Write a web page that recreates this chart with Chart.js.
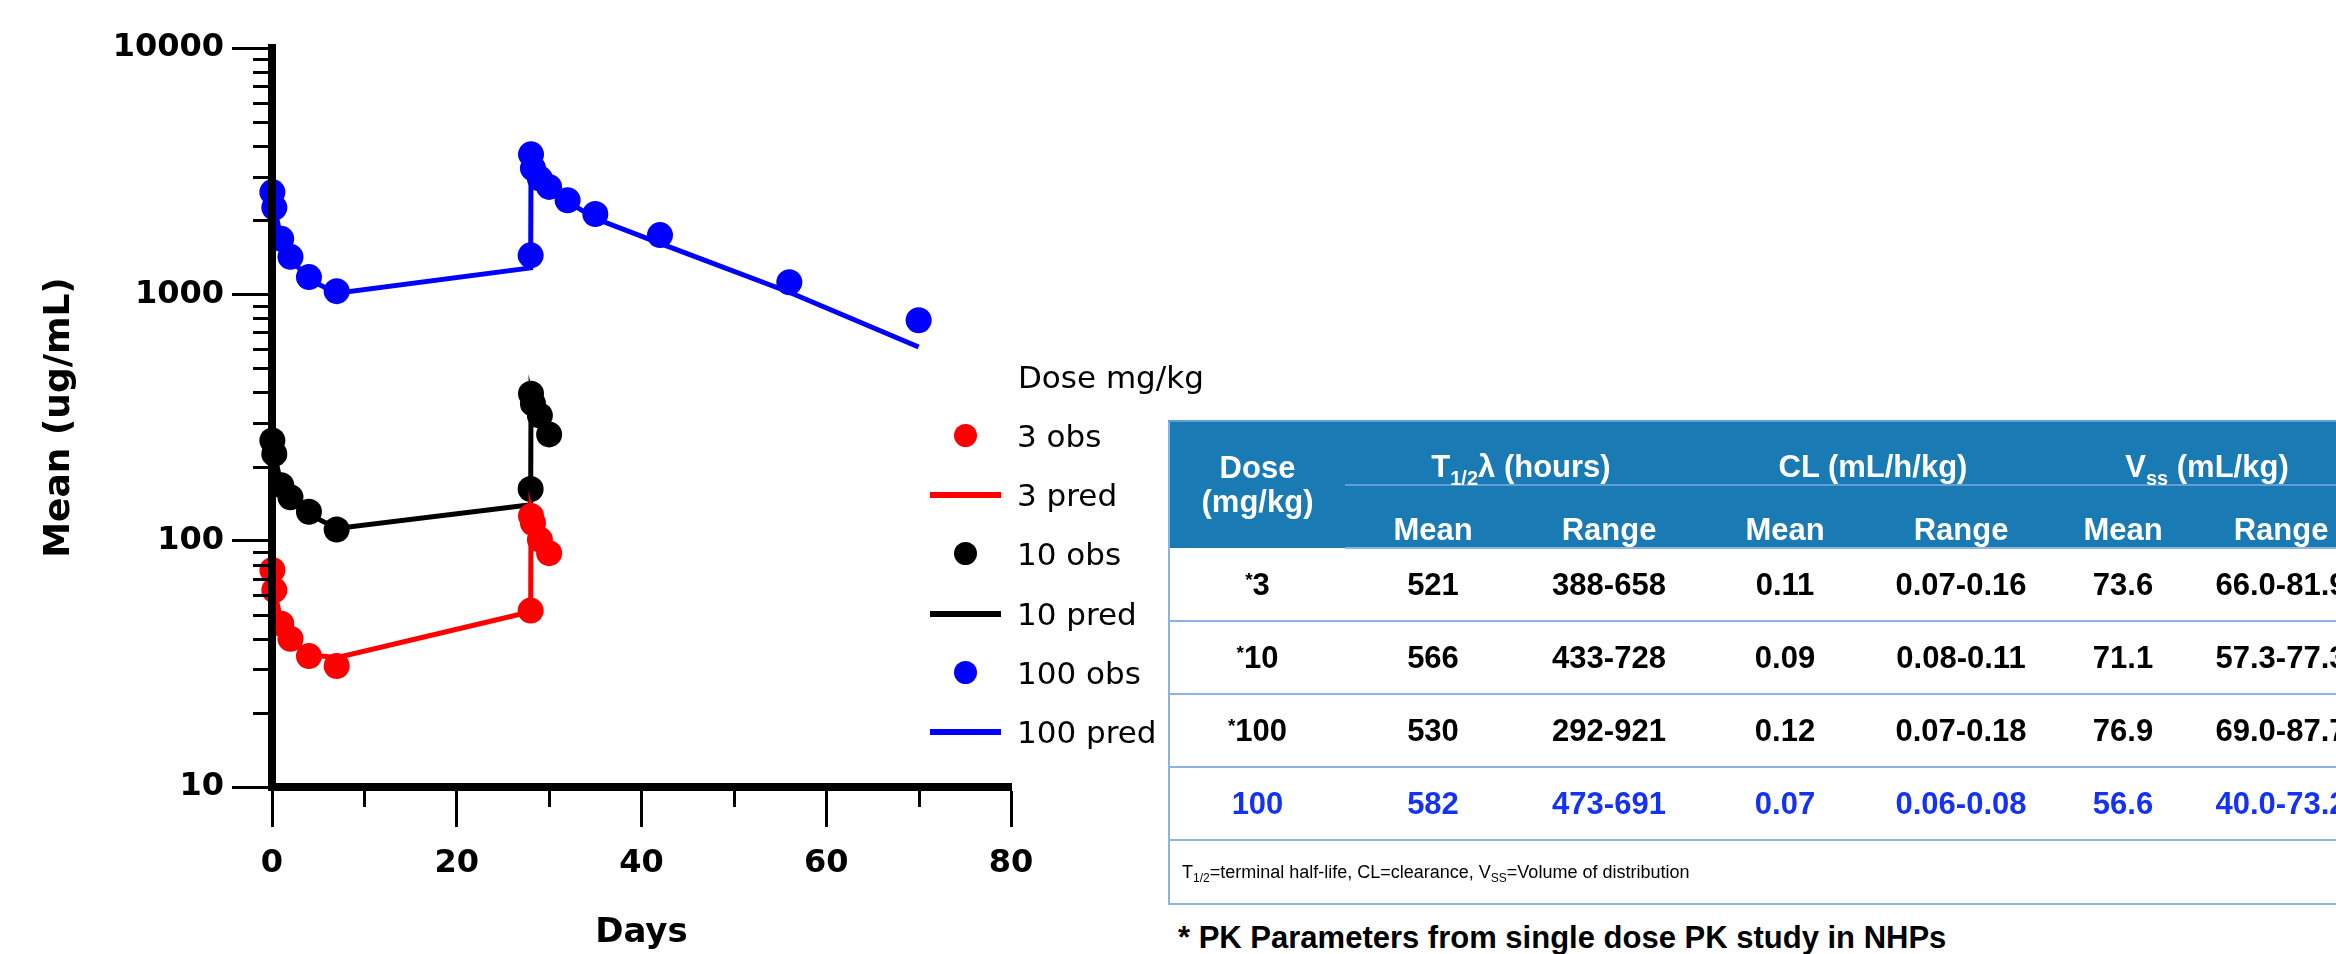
<!DOCTYPE html>
<html lang="en">
<head>
<meta charset="utf-8">
<title>Mean concentration by dose</title>
<script src="https://cdn.jsdelivr.net/npm/chart.js@4.4.1/dist/chart.umd.min.js"></script>
<style>
  html, body { margin: 0; padding: 0; background: #fff; }
  body { position: relative; width: 2336px; height: 954px; overflow: hidden; }
  #chartBox { position: absolute; left: 0; top: 0; width: 1100px; height: 954px; }

  /* legend */
  #legend { position: absolute; left: 0; top: 0; font-family: "DejaVu Sans", sans-serif; font-size: 31px; color: #000; }
  .lg-title { position: absolute; left: 1018px; top: 357px; line-height: 40px; white-space: nowrap; }
  .lg-row { position: absolute; left: 930px; width: 320px; height: 40px; }
  .lg-dot { position: absolute; left: 24px; top: 8px; width: 23px; height: 23px; border-radius: 50%; }
  .lg-line { position: absolute; left: 0; top: 17px; width: 71px; height: 6px; }
  .lg-text { position: absolute; left: 87px; top: 0; line-height: 40px; white-space: nowrap; }

  /* table */
  #pkTable { position: absolute; left: 1168px; top: 420px; width: 1196px; border-collapse: collapse; table-layout: fixed;
             font-family: "Liberation Sans", Arial, sans-serif; font-size: 31px; font-weight: bold;
             border-left: 2px solid #8db3e2; }
  #pkTable th { background: #1a7ab4; color: #fff; padding: 0; line-height: 35px; text-align: center; white-space: nowrap; }
  #pkTable tr.top th { border-top: 2px solid #5f9ed6; height: 62px; }
  #pkTable tr.top th.grp { border-bottom: 2px solid #5f9ed6; vertical-align: bottom; }
  #pkTable th.dose { vertical-align: middle; line-height: 34px; }
  #pkTable tr.sub th { height: 61px; vertical-align: bottom; border-bottom: 2px solid #8db3e2; }
  #pkTable td { text-align: center; height: 71px; padding: 0; line-height: 35px; border-bottom: 2px solid #8db3e2; white-space: nowrap; }
  #pkTable tr.blueRow td { color: #1432f5; }
  #pkTable td.note { text-align: left; font-weight: normal; font-size: 18px; height: 62px; padding-left: 12px; color: #000; }
  #pkTable sub { font-size: 20px; line-height: 0; vertical-align: -8px; }
  #pkTable td.note sub { font-size: 12px; vertical-align: -4px; }
  #pkTable sup { font-size: 19px; line-height: 0; vertical-align: 9px; }
  #footNote { position: absolute; left: 1178px; top: 920px; line-height: 35px; white-space: nowrap;
              font-family: "Liberation Sans", Arial, sans-serif; font-size: 31px; font-weight: bold; color: #000; }
</style>
</head>
<body>
<div id="chartBox"><canvas id="pkChart"></canvas></div>
<div id="legend"></div>
<table id="pkTable"></table>
<div id="footNote">* PK Parameters from single dose PK study in NHPs</div>

<script>
//Data-----------------------------------------------------
const doseLabels = ['3', '10', '100'];
const doseColors = ['#ff0000', '#000000', '#0000ff'];

// sampling days (observed and predicted use the same grid)
const days = [0.04, 0.25, 1, 2, 4, 7, 28, 28.04, 28.25, 29, 30];
const days100 = [0.04, 0.25, 1, 2, 4, 7, 28, 28.04, 28.25, 29, 30, 32, 35, 42, 56, 70];

const obs3 = [76, 63, 46, 40, 34, 31, 52, 126, 118, 101, 89];
const obs10 = [255, 225, 168, 150, 131, 111, 162, 395, 360, 322, 270];
const obs100 = [2600, 2250, 1680, 1420, 1175, 1030, 1440, 3700, 3250, 2950, 2730, 2410, 2120, 1740, 1120, 785];

const pred3 = [72, 64, 46, 40, 34.5, 33.5, 51.5, 130, 120, 102, 88];
const pred10 = [250, 225, 168, 148, 128, 112, 140, 385, 355, 318, 272];
const pred100 = [2550, 2250, 1680, 1400, 1150, 1010, 1280, 3400, 3150, 2850, 2650, 2380, 2030, 1610, 1020, 611];

const xTicks = [0, 20, 40, 60, 80];
const xMinorTicks = [10, 30, 50, 70];
const yTicks = [10, 100, 1000, 10000];
const yMinorTicks = [20, 30, 40, 50, 60, 70, 80, 90,
                     200, 300, 400, 500, 600, 700, 800, 900,
                     2000, 3000, 4000, 5000, 6000, 7000, 8000, 9000];

// table
const tableDoses = ['3', '10', '100', '100'];
const tableStarred = [true, true, true, false];
const halfLifeMean = ['521', '566', '530', '582'];
const halfLifeRange = ['388-658', '433-728', '292-921', '473-691'];
const clMean = ['0.11', '0.09', '0.12', '0.07'];
const clRange = ['0.07-0.16', '0.08-0.11', '0.07-0.18', '0.06-0.08'];
const vssMean = ['73.6', '71.1', '76.9', '56.6'];
const vssRange = ['66.0-81.9', '57.3-77.3', '69.0-87.7', '40.0-73.2'];

//Chart----------------------------------------------------
const toPoints = (xs, ys) => xs.map((d, i) => ({x: d, y: ys[i]}));

function obsSet(i, xs, ys) {
    return {
        type: 'scatter',
        label: doseLabels[i] + ' obs',
        data: toPoints(xs, ys),
        backgroundColor: doseColors[i],
        borderColor: doseColors[i],
        borderWidth: 0,
        pointRadius: 13,
        pointHoverRadius: 13,
        showLine: false,
        clip: false
    };
}

function predSet(i, xs, ys) {
    return {
        type: 'line',
        label: doseLabels[i] + ' pred',
        data: toPoints(xs, ys),
        borderColor: doseColors[i],
        backgroundColor: doseColors[i],
        borderWidth: 5,
        pointRadius: 0,
        tension: 0,
        fill: false,
        clip: false
    };
}

const datasets = [
    obsSet(0, days, obs3), predSet(0, days, pred3),
    obsSet(1, days, obs10), predSet(1, days, pred10),
    obsSet(2, days100, obs100), predSet(2, days100, pred100)
];

const tickFont = {family: 'DejaVu Sans', size: 32, weight: 'bold'};

// short ticks between the labelled ones
const minorTicks = {
    id: 'minorTicks',
    afterDraw(chart) {
        const {ctx, scales: {x, y}} = chart;
        ctx.save();
        ctx.strokeStyle = '#000';
        ctx.lineWidth = 3;
        xMinorTicks.forEach(v => {
            const px = Math.round(x.getPixelForValue(v)) + 0.5;
            ctx.beginPath();
            ctx.moveTo(px, x.top);
            ctx.lineTo(px, x.top + 20);
            ctx.stroke();
        });
        yMinorTicks.forEach(v => {
            const py = Math.round(y.getPixelForValue(v)) + 0.5;
            ctx.beginPath();
            ctx.moveTo(y.right, py);
            ctx.lineTo(y.right - 19, py);
            ctx.stroke();
        });
        ctx.restore();
    }
};

const options = {
    responsive: true,
    maintainAspectRatio: false,
    animation: false,
    layout: {padding: {top: 48, right: 89, bottom: 0, left: 0}},
    plugins: {
        legend: {display: false},
        tooltip: {enabled: false}
    },
    scales: {
        x: {
            type: 'linear',
            min: 0,
            max: 80,
            afterBuildTicks: s => { s.ticks = xTicks.map(v => ({value: v})); },
            afterFit: s => { s.height = 167; },
            border: {display: true, color: '#000', width: 8, z: 1},
            grid: {drawOnChartArea: false, drawTicks: true, tickLength: 40, tickWidth: 3, tickColor: '#000'},
            ticks: {color: '#000', font: tickFont, padding: 17, maxRotation: 0},
            title: {
                display: true,
                text: 'Days',
                color: '#000',
                font: {family: 'DejaVu Sans', size: 34, weight: 'bold'},
                padding: {top: 0, bottom: 0}
            }
        },
        y: {
            type: 'logarithmic',
            min: 10,
            max: 10000,
            afterBuildTicks: s => { s.ticks = yTicks.map(v => ({value: v})); },
            afterFit: s => { s.width = 272; },
            border: {display: true, color: '#000', width: 8, z: 1},
            grid: {drawOnChartArea: false, drawTicks: true, tickLength: 40, tickWidth: 3, tickColor: '#000'},
            ticks: {color: '#000', font: tickFont, padding: 8, callback: v => String(v)},
            title: {
                display: true,
                text: 'Mean (ug/mL)',
                color: '#000',
                font: {family: 'DejaVu Sans', size: 36, weight: 'bold'},
                padding: {top: 38, bottom: 0}
            }
        }
    }
};

const pkChart = new Chart(document.getElementById('pkChart'), {
    type: 'scatter',
    data: {datasets},
    options,
    plugins: [minorTicks]
});

//Legend---------------------------------------------------
const legend = document.getElementById('legend');
let legendHtml = '<div class="lg-title">Dose mg/kg</div>';
pkChart.data.datasets.forEach((ds, i) => {
    const top = 436 + i * 59.2 - 20;
    const mark = ds.type === 'line'
        ? `<div class="lg-line" style="background:${ds.borderColor}"></div>`
        : `<div class="lg-dot" style="background:${ds.backgroundColor}"></div>`;
    legendHtml += `<div class="lg-row" style="top:${top}px">${mark}<div class="lg-text">${ds.label}</div></div>`;
});
legend.innerHTML = legendHtml;

//Table----------------------------------------------------
const colWidths = [176, 176, 176, 176, 176, 148, 168];
let out = '<colgroup>' + colWidths.map(w => `<col style="width:${w}px">`).join('') + '</colgroup>';
out += `
    <thead>
        <tr class="top">
            <th class="dose" rowspan="2">Dose<br>(mg/kg)</th>
            <th class="grp" colspan="2">T<sub>1/2</sub>&lambda; (hours)</th>
            <th class="grp" colspan="2">CL (mL/h/kg)</th>
            <th class="grp" colspan="2">V<sub>ss</sub> (mL/kg)</th>
        </tr>
        <tr class="sub">
            <th>Mean</th><th>Range</th><th>Mean</th><th>Range</th><th>Mean</th><th>Range</th>
        </tr>
    </thead><tbody>`;
tableDoses.forEach((dose, i) => {
    out += `
        <tr class="${tableStarred[i] ? '' : 'blueRow'}">
            <td>${tableStarred[i] ? '<sup>*</sup>' : ''}${dose}</td>
            <td>${halfLifeMean[i]}</td>
            <td>${halfLifeRange[i]}</td>
            <td>${clMean[i]}</td>
            <td>${clRange[i]}</td>
            <td>${vssMean[i]}</td>
            <td>${vssRange[i]}</td>
        </tr>`;
});
out += `
        <tr><td class="note" colspan="7">T<sub>1/2</sub>=terminal half-life, CL=clearance, V<sub>SS</sub>=Volume of distribution</td></tr>
    </tbody>`;
document.getElementById('pkTable').innerHTML = out;
</script>
</body>
</html>
